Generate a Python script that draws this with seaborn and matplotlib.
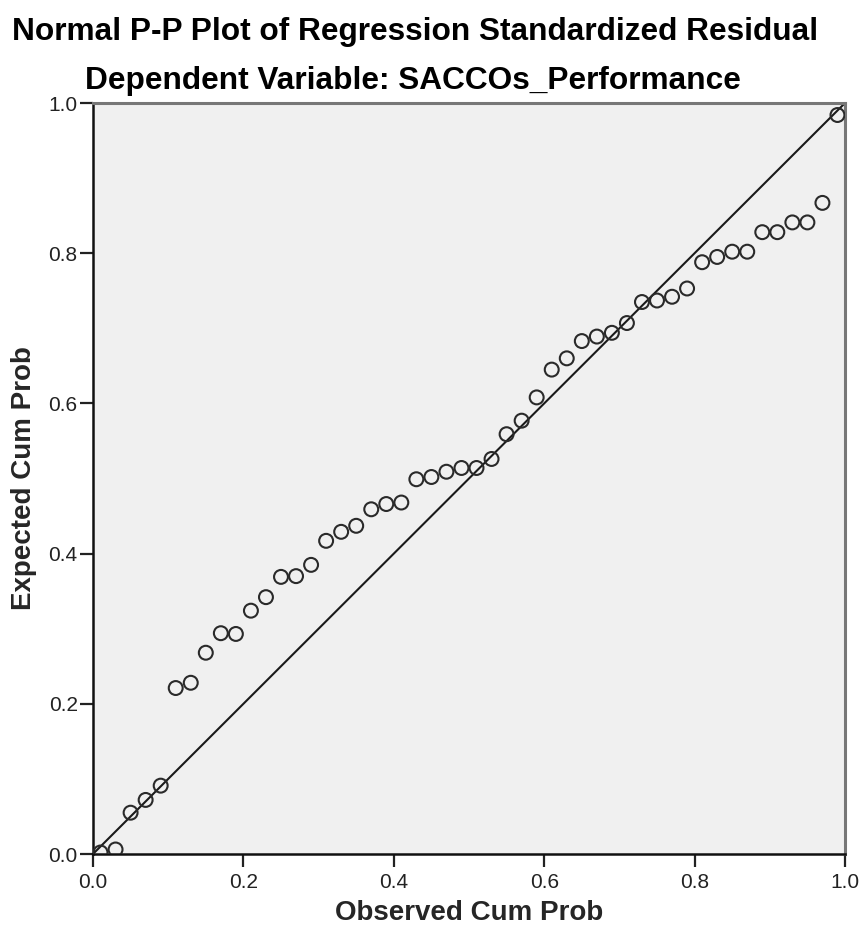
import matplotlib
matplotlib.use("Agg")
import matplotlib.pyplot as plt
import pandas as pd
import seaborn as sns

sns.set_theme(style="ticks")
plt.rcParams['font.family'] = ['Liberation Sans', 'DejaVu Sans']
plt.rcParams['text.color'] = 'black'

# observed cumulative probability (i - 0.5) / 50 and expected values
observed = [0.01, 0.03, 0.05, 0.07, 0.09, 0.11, 0.13, 0.15, 0.17, 0.19,
            0.21, 0.23, 0.25, 0.27, 0.29, 0.31, 0.33, 0.35, 0.37, 0.39,
            0.41, 0.43, 0.45, 0.47, 0.49, 0.51, 0.53, 0.55, 0.57, 0.59,
            0.61, 0.63, 0.65, 0.67, 0.69, 0.71, 0.73, 0.75, 0.77, 0.79,
            0.81, 0.83, 0.85, 0.87, 0.89, 0.91, 0.93, 0.95, 0.97, 0.99]
expected = [0.002, 0.006, 0.055, 0.072, 0.091, 0.221, 0.228, 0.268, 0.294, 0.293,
            0.324, 0.342, 0.369, 0.370, 0.385, 0.417, 0.429, 0.437, 0.459, 0.466,
            0.468, 0.499, 0.502, 0.509, 0.514, 0.514, 0.526, 0.559, 0.577, 0.608,
            0.645, 0.660, 0.683, 0.689, 0.694, 0.707, 0.735, 0.737, 0.742, 0.753,
            0.788, 0.795, 0.802, 0.802, 0.828, 0.828, 0.841, 0.841, 0.867, 0.984]
ref_line = [0.0, 1.0]
ticks = [0.0, 0.2, 0.4, 0.6, 0.8, 1.0]

data = pd.DataFrame({'observed': observed, 'expected': expected})

fig = plt.figure(figsize=(8.59, 9.47), dpi=100)
ax = fig.add_axes([93/859, 93/947, 752/859, 751/947])
ax.set_facecolor('#f0f0f0')

sns.lineplot(x=ref_line, y=ref_line, ax=ax, color='#1a1a1a', linewidth=1.5)
sns.scatterplot(data=data, x='observed', y='expected', ax=ax, s=100,
                facecolors='none', edgecolor='#2a2a2a', linewidth=1.5, zorder=3)

ax.set_xlim(0, 1)
ax.set_ylim(0, 1)
ax.set_xticks(ticks)
ax.set_yticks(ticks)
ax.set_xticklabels(['%.1f' % t for t in ticks], fontsize=15, color='#222222')
ax.set_yticklabels(['%.1f' % t for t in ticks], fontsize=15, color='#222222')
ax.tick_params(direction='out', length=9.5, width=1.6, color='#222222')
ax.tick_params(axis='x', pad=4)
ax.tick_params(axis='y', pad=1.5)

for side in ['left', 'bottom']:
    ax.spines[side].set_color('#111111')
    ax.spines[side].set_linewidth(1.8)
for side in ['top', 'right']:
    ax.spines[side].set_visible(True)
    ax.spines[side].set_color('#777777')
    ax.spines[side].set_linewidth(2.2)

ax.set_xlabel('Observed Cum Prob', fontsize=20, fontweight='bold', labelpad=6)
ax.set_ylabel('Expected Cum Prob', fontsize=20, fontweight='bold', labelpad=8)

fig.text(0.483, 1 - 40/947, 'Normal P-P Plot of Regression Standardized Residual',
         ha='center', va='baseline', fontsize=22.8, fontweight='bold')
fig.text(0.481, 1 - 89/947, 'Dependent Variable: SACCOs_Performance',
         ha='center', va='baseline', fontsize=22.8, fontweight='bold')

fig.savefig('out.png', dpi=100, facecolor='white')
